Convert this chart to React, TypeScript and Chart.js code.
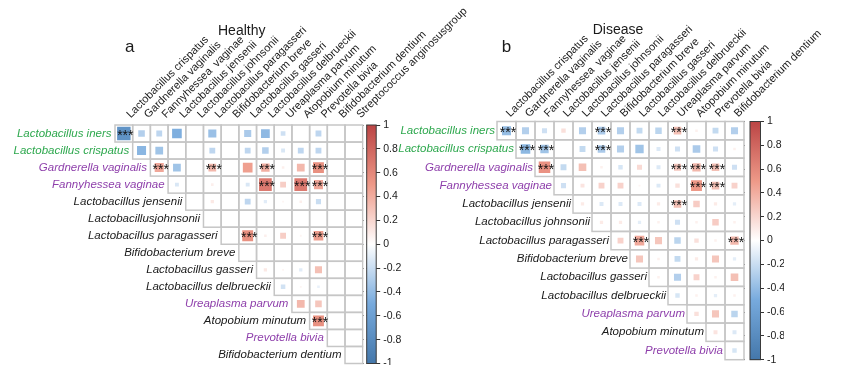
import React, { useEffect, useRef } from 'react';
import { Chart, registerables } from 'chart.js';

Chart.register(...registerables);

const FONT = "'Liberation Sans', Arial, Helvetica, sans-serif";

// ---------- Healthy panel ----------
const HEALTHY_ROWS = [
  'Lactobacillus iners', 'Lactobacillus crispatus', 'Gardnerella vaginalis', 'Fannyhessea vaginae',
  'Lactobacillus jensenii', 'Lactobacillusjohnsonii', 'Lactobacillus paragasseri', 'Bifidobacterium breve',
  'Lactobacillus gasseri', 'Lactobacillus delbrueckii', 'Ureaplasma parvum', 'Atopobium minutum',
  'Prevotella bivia', 'Bifidobacterium dentium',
];
const HEALTHY_COLS = [
  'Lactobacillus crispatus', 'Gardnerella vaginalis', 'Fannyhessea  vaginae', 'Lactobacillus jensenii',
  'Lactobacillus johnsonii', 'Lactobacillus paragasseri', 'Bifidobacterium breve', 'Lactobacillus gasseri',
  'Lactobacillus delbrueckii', 'Ureaplasma parvum', 'Atopobium minutum', 'Prevotella bivia',
  'Bifidobacterium dentium', 'Streptococcus anginosusgroup',
];
// row i holds the correlations with columns i .. end (upper triangle)
const HEALTHY_CORR = [
  [-0.73, -0.28, -0.24, -0.47, 0, -0.37, 0, -0.31, -0.41, -0.18, 0, -0.24, 0, 0],
  [-0.43, -0.35, 0, 0, -0.24, 0, -0.24, -0.28, -0.14, -0.24, -0.24, 0, 0],
  [0.43, -0.35, 0, 0.35, 0, 0.47, 0.39, 0.08, 0.35, 0.55, 0, 0],
  [-0.14, 0, 0.08, 0, -0.14, 0.68, 0.24, 0.68, 0.43, 0, 0],
  [0, 0.11, 0, -0.24, -0.11, 0.05, 0.08, -0.2, 0, 0],
  [0, 0, 0, 0, 0, 0, 0, 0, 0],
  [0, 0.55, 0.08, 0.24, 0.05, 0.47, 0, 0],
  [0, 0, 0, 0, 0, 0, 0],
  [0.11, 0.05, -0.11, 0.31, 0, 0],
  [-0.17, 0.05, -0.08, 0, 0],
  [0.35, 0.28, 0, 0],
  [0.55, 0, 0],
  [0, 0],
  [0],
];
// [row, column] of cells marked ***
const HEALTHY_SIG = [[0, 0], [2, 2], [2, 5], [2, 8], [2, 11], [3, 8], [3, 10], [3, 11], [6, 7], [6, 11], [11, 11]];

// ---------- Disease panel ----------
const DISEASE_ROWS = [
  'Lactobacillus iners', 'Lactobacillus crispatus', 'Gardnerella vaginalis', 'Fannyhessea vaginae',
  'Lactobacillus jensenii', 'Lactobacillus johnsonii', 'Lactobacillus paragasseri', 'Bifidobacterium breve',
  'Lactobacillus gasseri', 'Lactobacillus delbrueckii', 'Ureaplasma parvum', 'Atopobium minutum',
  'Prevotella bivia',
];
const DISEASE_COLS = [
  'Lactobacillus crispatus', 'Gardnerella vaginalis', 'Fannyhessea  vaginae', 'Lactobacillus jensenii',
  'Lactobacillus johnsonii', 'Lactobacillus paragasseri', 'Bifidobacterium breve', 'Lactobacillus gasseri',
  'Lactobacillus delbrueckii', 'Ureaplasma parvum', 'Atopobium minutum', 'Prevotella bivia',
  'Bifidobacterium dentium',
];
const DISEASE_CORR = [
  [-0.39, -0.28, -0.18, 0.15, -0.28, -0.31, -0.28, -0.22, -0.25, 0.31, 0.07, -0.22, -0.28],
  [-0.42, -0.35, 0, -0.22, -0.31, -0.28, -0.35, -0.13, -0.18, -0.31, -0.18, 0.07],
  [0.54, -0.22, 0.31, 0.07, -0.15, 0.18, -0.13, 0.28, 0.35, 0.31, -0.18],
  [-0.18, 0.13, 0.22, 0.22, 0.05, -0.13, 0.15, 0.5, 0.31, 0.22],
  [0.1, -0.13, -0.13, -0.13, 0.1, 0.31, 0.25, 0.1, -0.1],
  [0.1, 0.1, -0.1, 0.07, -0.18, 0.07, 0.25, 0.07],
  [0.22, 0.42, 0.28, -0.25, 0.15, 0.07, 0.35],
  [0.28, 0.07, -0.22, 0.1, 0.28, -0.1],
  [0.07, -0.28, 0.22, 0.07, 0.31],
  [-0.15, 0.07, -0.1, 0.07],
  [0.15, 0.28, -0.25],
  [0.13, -0.13],
  [-0.15],
];
const DISEASE_SIG = [[0, 0], [0, 5], [0, 9], [1, 1], [1, 2], [1, 5], [2, 2], [2, 9], [2, 10], [2, 11], [3, 10], [3, 11], [4, 9], [6, 7], [6, 12]];

const COLORBAR_TICKS = [1, 0.8, 0.6, 0.4, 0.2, 0, -0.2, -0.4, -0.6, -0.8, -1];

const GREEN_TAXA = ['Lactobacillus iners', 'Lactobacillus crispatus'];
const PURPLE_TAXA = ['Gardnerella vaginalis', 'Fannyhessea vaginae', 'Ureaplasma parvum', 'Prevotella bivia'];

// ---------- styling ----------
const STOPS: [number, number[]][] = [
  [-1, [68, 119, 170]],
  [-0.5, [119, 170, 221]],
  [0, [255, 255, 255]],
  [0.5, [238, 153, 136]],
  [1, [187, 68, 68]],
];
function corrColor(v: number) {
  const x = Math.max(-1, Math.min(1, v));
  for (let k = 0; k < STOPS.length - 1; k++) {
    const [a, ca] = STOPS[k];
    const [b, cb] = STOPS[k + 1];
    if (x >= a && x <= b) {
      const t = (x - a) / (b - a);
      const c = ca.map((q, n) => Math.round(q + (cb[n] - q) * t));
      return `rgb(${c[0]},${c[1]},${c[2]})`;
    }
  }
  return '#fff';
}
function labelColor(name: string) {
  if (GREEN_TAXA.includes(name)) return '#2EA84E';
  if (PURPLE_TAXA.includes(name)) return '#8E3FAB';
  return '#1a1a1a';
}

interface PanelLayout {
  canvasWidth: number;
  padLeft: number;
  padRight: number;
  padBottom: number;
  axisHeight: number;
  cbGap: number;
  cbWidth: number;
  cbDash: number;
  rowGap: number;
  labelOffset: number;
  labelPad: number;
}

const HEALTHY_LAYOUT: PanelLayout = {
  canvasWidth: 470, padLeft: 115, padRight: 67.3, padBottom: 1.5, axisHeight: 125,
  cbGap: 4, cbWidth: 9.5, cbDash: 4, rowGap: 3.5, labelOffset: 14, labelPad: 4,
};
const DISEASE_LAYOUT: PanelLayout = {
  canvasWidth: 470, padLeft: 107, padRight: 76, padBottom: 5.3, axisHeight: 121.5,
  cbGap: 6, cbWidth: 10.5, cbDash: 3.5, rowGap: 2, labelOffset: 11, labelPad: 1.5,
};

function buildChart(
  canvas: HTMLCanvasElement,
  rows: string[],
  cols: string[],
  corr: number[][],
  sig: number[][],
  L: PanelLayout,
) {
  const nR = rows.length;
  const nC = cols.length;
  const points: any[] = [];
  corr.forEach((row, i) =>
    row.forEach((v, k) => {
      if (v !== 0) points.push({ x: cols[i + k], y: rows[i], v });
    }),
  );
  const cell = (chart: any) => ({
    cw: chart.scales.x.width / nC,
    ch: chart.scales.y.height / nR,
  });
  const radius = (ctx: any) => {
    if (!ctx.raw) return 0;
    const { cw, ch } = cell(ctx.chart);
    const side = Math.min(cw, ch) * Math.pow(Math.abs(ctx.raw.v), 0.75);
    return side / Math.SQRT2;
  };

  const gridPlugin = {
    id: 'cellGrid',
    beforeDatasetsDraw(chart: any) {
      const c = chart.ctx;
      const xs = chart.scales.x;
      const ys = chart.scales.y;
      const { cw, ch } = cell(chart);
      c.save();
      c.strokeStyle = '#c6c6c6';
      c.lineWidth = 1.5;
      for (let i = 0; i < nR; i++) {
        for (let j = i; j < nC; j++) {
          const cx = xs.getPixelForValue(j);
          const cy = ys.getPixelForValue(i);
          c.strokeRect(cx - cw / 2, cy - ch / 2, cw, ch);
        }
      }
      c.restore();
    },
  };

  const overlayPlugin = {
    id: 'overlay',
    afterDraw(chart: any) {
      const c = chart.ctx;
      const xs = chart.scales.x;
      const ys = chart.scales.y;
      const y2 = chart.scales.y2;
      const { cw } = cell(chart);
      c.save();
      // row labels
      c.font = `italic 11.5px ${FONT}`;
      c.textAlign = 'right';
      c.textBaseline = 'middle';
      rows.forEach((name, i) => {
        c.fillStyle = labelColor(name);
        c.fillText(name, xs.getPixelForValue(i) - cw / 2 - L.rowGap, ys.getPixelForValue(i));
      });
      // significance stars
      c.font = `14px ${FONT}`;
      c.textAlign = 'center';
      c.fillStyle = '#111';
      sig.forEach(([i, j]) => {
        c.fillText('***', xs.getPixelForValue(j) + 1.5, ys.getPixelForValue(i) + 2.5);
      });
      // colour bar
      const area = chart.chartArea;
      const top = y2.getPixelForValue(1);
      const bot = y2.getPixelForValue(-1);
      const x0 = area.right + L.cbGap;
      c.fillStyle = '#ffffff';
      c.fillRect(area.right + 1, top - 1, x0 - area.right - 1, bot - top + 2);
      const g = c.createLinearGradient(0, top, 0, bot);
      STOPS.forEach(([v, col]) => g.addColorStop((1 - v) / 2, `rgb(${col[0]},${col[1]},${col[2]})`));
      c.fillStyle = g;
      c.fillRect(x0, top, L.cbWidth, bot - top);
      c.strokeStyle = '#3a3a3a';
      c.lineWidth = 1;
      c.strokeRect(x0, top, L.cbWidth, bot - top);
      c.restore();
    },
  };

  return new Chart(canvas, {
    type: 'scatter',
    data: {
      datasets: [
        {
          data: points,
          pointStyle: 'rect',
          backgroundColor: (ctx: any) => (ctx.raw ? corrColor(ctx.raw.v) : '#fff'),
          borderWidth: 0,
          pointRadius: radius,
          pointHoverRadius: radius,
        } as any,
      ],
    },
    options: {
      responsive: false,
      animation: false,
      events: [],
      layout: { padding: { left: L.padLeft, right: L.padRight, top: 0, bottom: L.padBottom } },
      plugins: { legend: { display: false }, tooltip: { enabled: false }, title: { display: false } },
      scales: {
        x: {
          type: 'category',
          labels: cols,
          position: 'top',
          offset: true,
          grid: { display: false, drawTicks: false },
          border: { display: false },
          ticks: {
            autoSkip: false,
            minRotation: 45,
            maxRotation: 45,
            padding: L.labelPad,
            labelOffset: L.labelOffset,
            color: '#1a1a1a',
            font: { family: FONT, size: 11 },
          },
          afterFit: (s: any) => {
            s.height = L.axisHeight;
            s.paddingLeft = 0;
            s.paddingRight = 0;
          },
        },
        y: { type: 'category', labels: rows, offset: true, display: false },
        y2: {
          type: 'linear',
          position: 'right',
          min: -1,
          max: 1,
          afterBuildTicks: (s: any) => {
            s.ticks = COLORBAR_TICKS.map((v) => ({ value: v }));
          },
          ticks: {
            padding: 3,
            color: '#1a1a1a',
            font: { family: FONT, size: 10.5 },
            callback: (v: any) => String(Math.round(Number(v) * 10) / 10),
          },
          grid: {
            drawOnChartArea: false,
            drawTicks: true,
            tickLength: L.cbGap + L.cbWidth + L.cbDash,
            color: '#333',
            lineWidth: 1,
          },
          border: { display: false },
          afterFit: (s: any) => {
            s.width = 40;
            s.paddingTop = 0;
            s.paddingBottom = 0;
          },
        },
      },
    } as any,
    plugins: [gridPlugin, overlayPlugin],
  });
}

export default function App() {
  const refA = useRef<HTMLCanvasElement>(null);
  const refB = useRef<HTMLCanvasElement>(null);
  useEffect(() => {
    const a = buildChart(refA.current!, HEALTHY_ROWS, HEALTHY_COLS, HEALTHY_CORR, HEALTHY_SIG, HEALTHY_LAYOUT);
    const b = buildChart(refB.current!, DISEASE_ROWS, DISEASE_COLS, DISEASE_CORR, DISEASE_SIG, DISEASE_LAYOUT);
    return () => {
      a.destroy();
      b.destroy();
    };
  }, []);
  const txt = (left: number, top: number, size: number, s: string) => (
    <div
      style={{
        position: 'absolute', left, top, fontSize: size, lineHeight: 1, fontFamily: FONT,
        color: '#1a1a1a', whiteSpace: 'nowrap',
      }}
    >
      {s}
    </div>
  );
  return (
    <div
      style={{
        position: 'fixed', left: 0, top: 0, width: 860, height: 365, background: '#ffffff', overflow: 'hidden',
      }}
    >
      <canvas ref={refA} width={470} height={365} style={{ position: 'absolute', left: 0, top: 0, width: 470, height: 365 }} />
      <canvas ref={refB} width={470} height={365} style={{ position: 'absolute', left: 390, top: 0, width: 470, height: 365 }} />
      {txt(125, 37.6, 17, 'a')}
      {txt(218, 23, 14, 'Healthy')}
      {txt(501.7, 37.9, 17, 'b')}
      {txt(592.7, 21.6, 14, 'Disease')}
    </div>
  );
}
